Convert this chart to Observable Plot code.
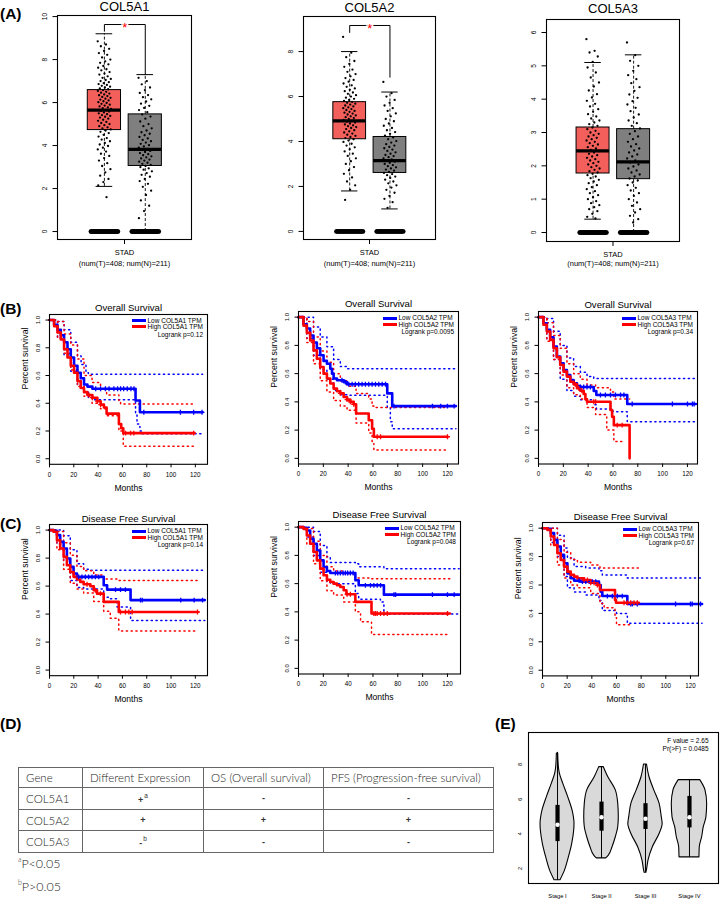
<!DOCTYPE html>
<html><head><meta charset="utf-8">
<script src="https://cdn.jsdelivr.net/npm/d3@7"></script>
<script src="https://cdn.jsdelivr.net/npm/@observablehq/plot@0.6"></script>
<style>
body{margin:0;background:#fff;}
#root{position:relative;width:720px;height:900px;overflow:hidden;font-family:"Liberation Sans",Arial,Helvetica,sans-serif;color:#000;}
.abs{position:absolute;white-space:nowrap;line-height:1;}
#tbl{position:absolute;left:18px;top:767px;border-collapse:collapse;font-family:Lato,"Open Sans",sans-serif;font-weight:300;font-size:11.5px;color:#262626;table-layout:fixed;}
#tbl td{border:1px solid #666;padding:0 0 0 7px;white-space:nowrap;overflow:visible;}
#tbl td.s{text-align:center;padding:0;font-family:"Liberation Sans",Arial,sans-serif;font-size:9px;font-weight:bold;color:#333;}
#tbl sup{font-size:6.5px;font-weight:normal;vertical-align:5px;margin-left:1px;}
.fn{font-family:Lato,"Open Sans",sans-serif;font-weight:300;font-size:12.5px;color:#262626;}
.fn sup{font-size:7px;vertical-align:6px;}
</style></head>
<body><div id="root"></div>
<script>
// ---------------- DATA ----------------
// (A) expression box plots
const genes = ["COL5A1", "COL5A2", "COL5A3"];
const tLo = [2.1, 1.8, 0.4];
const tQ1 = [4.72, 4.1, 1.77];
const tMed = [5.65, 4.92, 2.45];
const tQ3 = [6.58, 5.75, 3.15];
const tHi = [9.2, 8.0, 5.1];
const nLo = [0, 1.0, 0];
const nQ1 = [3.05, 2.6, 1.6];
const nMed = [3.82, 3.15, 2.12];
const nQ3 = [5.45, 4.2, 3.1];
const nHi = [7.3, 6.2, 5.33];
const sigTop = [9.63, 9.16, null];
const sigLeftEnd = [9.32, 8.85, null];
const sigRightEnd = [7.3, 6.86, null];
const zeroCountT = [44, 44, 44];
const zeroCountN = [44, 44, 44];
const axisTicksA = [[0,2,4,6,8,10],[0,2,4,6,8],[0,1,2,3,4,5,6]];
const ptsT1 = [8.85,8.7,8.62,8.5,8.4,8.3,8.22,8.1,8.0,7.92,7.85,7.78,7.7,7.62,7.55,7.5,7.42,7.35,7.3,7.22,7.15,7.1,7.05,7.0,6.95,6.9,6.86,6.82,6.78,6.74,6.7,6.66,6.62,6.58,6.54,6.5,6.46,6.42,6.38,6.34,6.3,6.26,6.22,6.18,6.14,6.1,6.06,6.02,5.98,5.94,5.9,5.86,5.82,5.78,5.74,5.7,5.66,5.62,5.58,5.54,5.5,5.46,5.42,5.38,5.34,5.3,5.25,5.2,5.15,5.1,5.05,5.0,4.95,4.9,4.85,4.8,4.75,4.7,4.64,4.58,4.5,4.42,4.35,4.28,4.2,4.12,4.05,3.98,3.9,3.82,3.72,3.62,3.52,3.42,3.3,3.18,3.05,2.9,2.75,2.6,2.45,2.3,2.15,1.6];
const ptsN1 = [7.15,7.0,6.85,6.7,6.58,6.45,6.35,6.25,6.15,6.05,5.95,5.85,5.75,5.65,5.55,5.45,5.35,5.25,5.12,5.0,4.9,4.8,4.7,4.62,4.55,4.48,4.4,4.33,4.26,4.2,4.14,4.08,4.02,3.96,3.9,3.85,3.8,3.75,3.7,3.65,3.6,3.55,3.5,3.45,3.4,3.35,3.3,3.25,3.2,3.15,3.1,3.05,3.0,2.94,2.88,2.8,2.72,2.64,2.55,2.45,2.35,2.22,2.08,1.9,1.7,1.45,1.2,0.95,0.62];
const ptsT2 = [8.65,7.95,7.75,7.58,7.45,7.32,7.2,7.1,7.0,6.9,6.82,6.74,6.66,6.58,6.5,6.43,6.36,6.3,6.24,6.18,6.12,6.06,6.0,5.95,5.9,5.85,5.8,5.76,5.72,5.68,5.64,5.6,5.56,5.52,5.48,5.44,5.4,5.36,5.32,5.28,5.24,5.2,5.16,5.12,5.08,5.04,5.0,4.96,4.92,4.88,4.84,4.8,4.76,4.72,4.68,4.64,4.6,4.55,4.5,4.45,4.4,4.35,4.3,4.25,4.2,4.15,4.1,4.04,3.98,3.9,3.82,3.74,3.65,3.56,3.46,3.36,3.25,3.12,3.0,2.86,2.72,2.56,2.4,2.22,2.05,1.85,1.4];
const ptsN2 = [6.65,6.15,6.0,5.85,5.72,5.6,5.48,5.36,5.25,5.12,5.0,4.9,4.8,4.7,4.6,4.5,4.42,4.34,4.26,4.18,4.1,4.02,3.95,3.88,3.82,3.76,3.7,3.64,3.58,3.52,3.46,3.4,3.35,3.3,3.25,3.2,3.15,3.1,3.05,3.0,2.95,2.9,2.85,2.8,2.75,2.7,2.65,2.6,2.55,2.5,2.44,2.38,2.3,2.22,2.14,2.05,1.95,1.85,1.72,1.58,1.45,1.3,1.05];
const ptsT3 = [5.8,5.45,5.4,5.28,5.12,4.95,4.8,4.65,4.5,4.38,4.26,4.15,4.05,3.95,3.86,3.78,3.7,3.62,3.55,3.48,3.42,3.36,3.3,3.25,3.2,3.15,3.1,3.05,3.0,2.96,2.92,2.88,2.84,2.8,2.76,2.72,2.68,2.64,2.6,2.56,2.52,2.48,2.44,2.4,2.36,2.32,2.28,2.24,2.2,2.16,2.12,2.08,2.04,2.0,1.96,1.92,1.88,1.84,1.8,1.76,1.72,1.68,1.63,1.58,1.53,1.48,1.42,1.36,1.3,1.24,1.18,1.12,1.06,1.0,0.94,0.88,0.82,0.76,0.7,0.64,0.56,0.47,0.42];
const ptsN3 = [5.7,5.32,5.15,5.0,4.85,4.72,4.6,4.48,4.36,4.25,4.14,4.04,3.94,3.84,3.74,3.64,3.54,3.45,3.36,3.28,3.2,3.12,3.04,2.96,2.88,2.8,2.72,2.65,2.58,2.52,2.46,2.4,2.34,2.28,2.22,2.16,2.1,2.04,1.98,1.92,1.86,1.8,1.74,1.68,1.62,1.56,1.5,1.42,1.34,1.26,1.18,1.1,1.0,0.9,0.8,0.7,0.6,0.5,0.4,0.3];

// (B) overall survival  [month, survival]
const os1Low = [[0,1],[3.8,0.966],[6.6,0.93],[9.3,0.89],[12,0.84],[14.8,0.79],[17.5,0.73],[20.2,0.67],[23,0.62],[25.7,0.58],[28.4,0.535],[31.2,0.52],[35.3,0.505],[70.8,0.42],[74.4,0.335],[126,0.335]];
const os1High = [[0,1],[3.8,0.955],[6.6,0.91],[9.3,0.86],[12,0.79],[14.8,0.73],[17.5,0.67],[20.2,0.62],[23,0.56],[25.7,0.51],[28.4,0.48],[31.2,0.46],[35.3,0.44],[39.4,0.415],[42.1,0.39],[44.8,0.37],[47,0.325],[57.1,0.25],[59,0.22],[60.7,0.185],[119.2,0.185]];
const os1LowUp = [[0,1],[6.6,0.99],[12,0.93],[17.5,0.84],[23,0.74],[26,0.68],[30,0.62],[32,0.61],[126,0.61]];
const os1LowLo = [[0,1],[6.6,0.87],[12,0.75],[17.5,0.63],[23,0.53],[28.4,0.48],[32,0.44],[36,0.425],[70.8,0.33],[72,0.25],[74.4,0.2],[76,0.18],[126,0.18]];
const os1HighUp = [[0,1],[6.6,0.99],[12,0.9],[17.5,0.82],[23,0.72],[28.4,0.6],[35,0.55],[42,0.5],[47,0.46],[57.1,0.42],[58.5,0.395],[119.2,0.395]];
const os1HighLo = [[0,1],[6.6,0.87],[12,0.76],[17.5,0.64],[23,0.52],[28.4,0.45],[35,0.4],[42,0.36],[47,0.31],[57.1,0.2],[60.7,0.09],[119.2,0.09]];
const os1LowCens = [38,42,46,49,53,56,58.5,61,64,67,69.5,77.6,107.7,118.6,125.5];
const os1HighCens = [32.5,35.3,39.4,42.1,62.6,66.7,69.4,118.6];

const os2Low = [[0,1],[4,0.95],[6.7,0.92],[9.4,0.87],[12.1,0.82],[14.8,0.78],[17.5,0.73],[20.2,0.69],[22.9,0.67],[25.6,0.635],[27,0.6],[28.3,0.565],[31,0.553],[36.4,0.54],[39.1,0.525],[71.5,0.46],[75.5,0.37],[126.8,0.37]];
const os2High = [[0,1],[4,0.94],[6.7,0.89],[9.4,0.835],[12.1,0.765],[14.8,0.705],[17.5,0.647],[20.2,0.6],[22.9,0.565],[25.6,0.53],[28.3,0.494],[31,0.475],[33.7,0.46],[36.4,0.435],[39.1,0.416],[41.8,0.4],[44.5,0.383],[46.4,0.318],[56.6,0.27],[59.3,0.21],[60.7,0.153],[120,0.153]];
const os2LowUp = [[0,1],[6.7,1.0],[12.1,0.93],[17.5,0.86],[22.9,0.79],[28.3,0.7],[33.7,0.65],[39.1,0.635],[126.8,0.635]];
const os2LowLo = [[0,1],[6.7,0.85],[12.1,0.73],[17.5,0.63],[22.9,0.56],[28.3,0.48],[33.7,0.45],[39.1,0.447],[71.5,0.36],[74,0.26],[75.5,0.21],[126.8,0.21]];
const os2HighUp = [[0,1],[6.7,0.97],[12.1,0.86],[17.5,0.76],[22.9,0.68],[28.3,0.6],[33.7,0.55],[39.1,0.51],[46.4,0.46],[56.6,0.42],[59.3,0.37],[60.7,0.36],[120,0.36]];
const os2HighLo = [[0,1],[6.7,0.82],[12.1,0.67],[17.5,0.55],[22.9,0.47],[28.3,0.41],[33.7,0.37],[39.1,0.34],[46.4,0.25],[56.6,0.18],[59.3,0.12],[60.7,0.06],[120,0.06]];
const os2LowCens = [35,37.8,40.5,43.2,45.8,48.5,51.2,53.9,56.6,59.3,62,64.7,67.4,70.1,76.9,107.9,114.6,120,125.4];
const os2HighCens = [33.7,39.1,41.8,44.5,63.4,66.1,120];

const os3Low = [[0,1],[4,0.957],[6.7,0.91],[9.4,0.858],[12.1,0.792],[14.8,0.721],[17.5,0.673],[20.2,0.626],[22.9,0.59],[25.6,0.555],[28.3,0.531],[31,0.512],[33.7,0.505],[44.5,0.477],[46.6,0.449],[71.5,0.385],[126.8,0.385]];
const os3High = [[0,1],[4,0.946],[6.7,0.898],[9.4,0.839],[12.1,0.78],[14.8,0.716],[17.5,0.661],[20.2,0.614],[22.9,0.579],[25.6,0.543],[28.3,0.524],[31,0.496],[33.7,0.479],[36.4,0.456],[37.8,0.418],[39.1,0.401],[58,0.342],[59.3,0.295],[60.7,0.235],[73.4,0]];
const os3LowUp = [[0,1],[6.7,0.99],[12.1,0.9],[17.5,0.8],[22.9,0.71],[28.3,0.65],[33.7,0.61],[39.1,0.58],[44.5,0.565],[126.8,0.565]];
const os3LowLo = [[0,1],[6.7,0.84],[12.1,0.7],[17.5,0.56],[22.9,0.48],[28.3,0.44],[33.7,0.415],[44.5,0.38],[46.6,0.35],[60,0.33],[71.5,0.26],[126.8,0.26]];
const os3HighUp = [[0,1],[6.7,0.96],[12.1,0.87],[17.5,0.78],[22.9,0.67],[28.3,0.6],[33.7,0.56],[39.1,0.52],[46,0.5],[58,0.47],[60.7,0.42],[73.4,0.42]];
const os3HighLo = [[0,1],[6.7,0.83],[12.1,0.7],[17.5,0.59],[22.9,0.5],[28.3,0.45],[33.7,0.42],[39.1,0.36],[46,0.31],[55,0.2],[60.7,0.12],[67.4,0.12]];
const os3LowCens = [33.7,36.4,39.1,41.8,49.9,53.9,58,62,66.1,68.8,75.5,107.9,120,124,125.4];
const os3HighCens = [29.7,32.4,35,44.5,46,63.4,67.4];

// (C) disease free survival
const dfs1Low = [[0,1],[3.3,0.995],[6.1,0.964],[8.8,0.916],[11.6,0.869],[14.3,0.797],[17.1,0.737],[19.8,0.69],[22.6,0.666],[44.6,0.606],[47.4,0.575],[66.7,0.5],[127.8,0.5]];
const dfs1High = [[0,1],[3.3,0.988],[6.1,0.928],[8.8,0.869],[11.6,0.809],[14.3,0.749],[17.1,0.701],[19.8,0.666],[22.6,0.647],[25.3,0.63],[28.1,0.613],[33.6,0.599],[36.4,0.57],[39.1,0.546],[44.6,0.487],[57,0.415],[121.8,0.415]];
const dfs1LowUp = [[0,1],[6.1,1.0],[11.6,0.96],[17.1,0.86],[22.6,0.76],[28.1,0.72],[33,0.713],[127.8,0.713]];
const dfs1LowLo = [[0,1],[6.1,0.9],[11.6,0.78],[17.1,0.64],[22.6,0.59],[28.1,0.58],[44.6,0.52],[50,0.51],[55.6,0.45],[66.7,0.355],[127.8,0.355]];
const dfs1HighUp = [[0,1],[6.1,0.99],[11.6,0.91],[17.1,0.82],[22.6,0.74],[28.1,0.71],[36.4,0.68],[44.6,0.65],[57,0.64],[121.8,0.64]];
const dfs1HighLo = [[0,1],[6.1,0.86],[11.6,0.72],[17.1,0.62],[22.6,0.58],[28.1,0.55],[36.4,0.49],[44.6,0.42],[50,0.37],[57,0.28],[121.8,0.28]];
const dfs1LowCens = [24,26.7,29.5,32.2,35,37.7,40.5,54.3,58.4,62.5,74.9,76.3,108,119,125.9];
const dfs1HighCens = [30.9,37.7,41.9,58.4,62.5,65.3,68,121.8];

const dfs2Low = [[0,1],[4,0.995],[6.7,0.976],[9.4,0.918],[12.1,0.882],[14.8,0.835],[17.5,0.765],[20.2,0.718],[22.9,0.689],[25.6,0.675],[45.8,0.624],[48.5,0.588],[68.8,0.522],[129.4,0.522]];
const dfs2High = [[0,1],[4,0.988],[6.7,0.941],[9.4,0.882],[12.1,0.824],[14.8,0.765],[17.5,0.706],[20.2,0.659],[22.9,0.628],[25.6,0.612],[28.3,0.6],[31,0.588],[33.7,0.576],[36.4,0.553],[38.6,0.525],[45.8,0.471],[58.8,0.388],[122,0.388]];
const dfs2LowUp = [[0,1],[6.7,1.0],[12.1,0.97],[17.5,0.87],[22.9,0.79],[25.6,0.75],[45.8,0.74],[48.5,0.72],[68.8,0.705],[129.4,0.705]];
const dfs2LowLo = [[0,1],[6.7,0.93],[12.1,0.8],[17.5,0.68],[22.9,0.61],[25.6,0.6],[45.8,0.53],[48.5,0.49],[66,0.47],[68.8,0.385],[129.4,0.385]];
const dfs2HighUp = [[0,1],[6.7,0.99],[12.1,0.9],[17.5,0.8],[22.9,0.72],[28.3,0.69],[36.4,0.67],[45.8,0.64],[58.8,0.635],[122,0.635]];
const dfs2HighLo = [[0,1],[6.7,0.88],[12.1,0.74],[17.5,0.62],[22.9,0.55],[28.3,0.52],[36.4,0.47],[45.8,0.4],[50,0.33],[58.8,0.24],[122,0.24]];
const dfs2LowCens = [29.7,31.6,33.7,35.9,37.8,39.6,41.8,44,53.9,58,60.7,63.4,66.1,76.9,78.2,107.9,120,125.4];
const dfs2HighCens = [39.1,41.8,60.7,62,63.4,66.1,68.8,71.5,120];

const dfs3Low = [[0,1],[4,0.995],[6.7,0.965],[9.4,0.918],[12.1,0.871],[14.8,0.812],[17.5,0.753],[20.2,0.682],[22.9,0.647],[25.6,0.631],[31,0.624],[45.8,0.6],[47.2,0.553],[48.5,0.522],[68.8,0.466],[129.4,0.466]];
const dfs3High = [[0,1],[4,0.988],[6.7,0.941],[9.4,0.882],[12.1,0.824],[14.8,0.776],[17.5,0.729],[20.2,0.694],[22.9,0.671],[25.6,0.659],[28.3,0.647],[33.7,0.635],[39.1,0.616],[44.5,0.6],[46.6,0.565],[58.8,0.494],[59.6,0.475],[78.2,0.475]];
const dfs3LowUp = [[0,1],[6.7,1.0],[12.1,0.95],[17.5,0.86],[20.2,0.79],[25.6,0.73],[35,0.72],[45.8,0.7],[48.5,0.67],[68.8,0.65],[129.4,0.65]];
const dfs3LowLo = [[0,1],[6.7,0.9],[12.1,0.8],[17.5,0.66],[20.2,0.58],[25.6,0.55],[35,0.53],[45.8,0.49],[48.5,0.42],[60,0.4],[68.8,0.33],[129.4,0.33]];
const dfs3HighUp = [[0,1],[6.7,1.0],[12.1,0.92],[17.5,0.83],[22.9,0.78],[28.3,0.76],[39.1,0.74],[46.6,0.72],[78.2,0.72]];
const dfs3HighLo = [[0,1],[6.7,0.88],[12.1,0.74],[17.5,0.65],[22.9,0.6],[28.3,0.58],[39.1,0.54],[46.6,0.47],[50,0.44],[58.8,0.37],[60,0.32],[72,0.32]];
const dfs3LowCens = [29.7,32.4,35.1,37.8,40.5,43.1,52.6,56.6,60.7,64.7,71.5,72.8,76.9,107.9,120,121.4,128.1];
const dfs3HighCens = [33.7,36.4,39.1,41.8,44.5,66.1,68.8,71.5,74.2,76.9];

const pvalOS = ["0.12", "0.0095", "0.34"];
const pvalDFS = ["0.14", "0.048", "0.67"];
const kmXTicks = [0, 20, 40, 60, 80, 100, 120];
const kmYTicks = [0, 0.2, 0.4, 0.6, 0.8, 1.0];

// (D) table
const tableHeader = ["Gene", "Different Expression", "OS (Overall survival)", "PFS (Progression-free survival)"];
const diffExpr = ["+", "+", "-"];
const diffSup = ["a", "", "b"];
const osMark = ["-", "+", "-"];
const pfsMark = ["-", "+", "-"];
const footnotes = [["a", "P<0.05"], ["b", "P>0.05"]];

// (E) violin plot by stage
const stages = ["Stage I", "Stage II", "Stage III", "Stage IV"];
const vioStage1 = [[1.32,0.068],[1.86,0.167],[2.64,0.258],[3.41,0.333],[4.19,0.379],[4.57,0.386],[5.35,0.341],[6.12,0.242],[6.9,0.129],[7.48,0.053],[7.86,0.03],[8.64,0.015]];
const vioStage2 = [[2.58,0.107],[2.74,0.166],[3.22,0.25],[3.8,0.325],[4.38,0.38],[4.96,0.393],[5.74,0.38],[6.51,0.325],[7.28,0.152],[7.85,0.052]];
const vioStage3 = [[1.75,0.02],[1.86,0.03],[2.45,0.068],[3.22,0.166],[3.99,0.32],[4.57,0.39],[4.96,0.37],[5.74,0.32],[6.51,0.2],[7.28,0.09],[8.0,0.034]];
const vioStage4 = [[2.64,0.227],[3.22,0.234],[3.8,0.288],[4.38,0.325],[4.96,0.386],[5.74,0.402],[6.51,0.364],[7.1,0.245]];
const vioMin = [1.3, 2.58, 1.75, 2.64];
const vioQ1 = [3.55, 4.15, 4.25, 4.34];
const vioMed = [4.52, 4.96, 4.87, 4.96];
const vioQ3 = [5.64, 5.83, 5.74, 6.16];
const vioMax = [8.7, 7.85, 8.0, 7.1];
const fValue = "2.65";
const prF = "0.0485";

// ---------------- LAYOUT HELPERS ----------------
const ROOT = document.getElementById("root");
const FONT = '"Liberation Sans", Arial, Helvetica, sans-serif';
function dims(f, m) {
  return {width: f[2]-f[0]+m.l+m.r, height: f[3]-f[1]+m.t+m.b,
    marginLeft: m.l, marginRight: m.r, marginTop: m.t, marginBottom: m.b};
}
function put(svg, f, m) {
  svg.style.position = "absolute";
  svg.style.left = (f[0]-m.l) + "px";
  svg.style.top = (f[1]-m.t) + "px";
  ROOT.appendChild(svg);
}
function label(html, x, y, o = {}) {
  const d = document.createElement("div");
  d.className = "abs " + (o.cls || "");
  d.innerHTML = html;
  d.style.left = x + "px"; d.style.top = y + "px";
  if (o.size) d.style.fontSize = o.size + "px";
  if (o.weight) d.style.fontWeight = o.weight;
  const ax = o.anchor === "end" ? "-100%" : o.anchor === "middle" ? "-50%" : "0";
  d.style.transform = `translate(${ax},-50%)`;
  ROOT.appendChild(d);
  return d;
}
function swatch(x1, x2, y, color) {
  const d = document.createElement("div");
  d.className = "abs";
  d.style.left = x1 + "px"; d.style.top = (y - 1.5) + "px";
  d.style.width = (x2 - x1) + "px"; d.style.height = "3px";
  d.style.background = color;
  ROOT.appendChild(d);
}
const baseStyle = {fontFamily: FONT, fontWeight: "normal", background: "transparent", overflow: "visible", color: "black"};

// ---------------- (A) BOX PLOTS ----------------
const POS_T = 0.35, POS_N = 0.655, HW = 0.124, JW = 0.05;
const jit = i => (((i * 0.6180339887) % 1) - 0.5) * 2 * JW;
const ptsT = [ptsT1, ptsT2, ptsT3];
const ptsN = [ptsN1, ptsN2, ptsN3];
const framesA = [[57,15,191,239],[303,16,435,239],[546,19,679,241]];
const yDomA = [[-0.37,10.05],[-0.36,9.56],[-0.27,6.39]];
const titleYA = [6.5, 7.2, 8];
const stadYA = [252, 252, 254];
const numYA = [263, 263, 263.5];
const RED_BOX = "#F35F5B", GRAY_BOX = "#7F7F7F";

genes.forEach((g, k) => {
  const f = framesA[k];
  const m = {t: 19, r: 6, b: 30, l: 22};
  const boxMarks = (pos, lo, q1, med, q3, hi, fill, pts, zc) => [
    Plot.ruleX([0], {x: () => pos, y1: () => q3, y2: () => hi, stroke: "black", strokeWidth: 0.9, strokeDasharray: "3,2"}),
    Plot.ruleX([0], {x: () => pos, y1: () => lo, y2: () => q1, stroke: "black", strokeWidth: 0.9, strokeDasharray: "3,2"}),
    Plot.ruleY([hi, lo], {y: d => d, x1: () => pos - HW/2, x2: () => pos + HW/2, stroke: "black", strokeWidth: 1}),
    Plot.rect([0], {x1: () => pos - HW, x2: () => pos + HW, y1: () => q1, y2: () => q3, fill, stroke: "black", strokeWidth: 1}),
    Plot.dot(pts.map((v, i) => ({v, i})), {x: d => pos + jit(d.i), y: "v", r: 1.15, fill: "black", stroke: null}),
    Plot.ruleY([med], {y: d => d, x1: () => pos - HW, x2: () => pos + HW, stroke: "black", strokeWidth: 3.2}),
    Plot.dot(d3.range(zc), {x: i => pos - HW + 0.02 + (i + 0.5) / zc * (2*HW - 0.04), y: () => 0, r: 2.2, fill: "black", stroke: null})
  ];
  const marks = [
    ...boxMarks(POS_T, tLo[k], tQ1[k], tMed[k], tQ3[k], tHi[k], RED_BOX, ptsT[k], zeroCountT[k]),
    ...boxMarks(POS_N, nLo[k], nQ1[k], nMed[k], nQ3[k], nHi[k], GRAY_BOX, ptsN[k], zeroCountN[k]),
    Plot.frame({stroke: "black", strokeWidth: 1.1}),
    Plot.axisY({ticks: axisTicksA[k], tickFormat: d3.format("d"), tickSize: 4.5, tickPadding: 8, tickRotate: -90, textAnchor: "middle", lineAnchor: "middle", fontSize: 6.5, label: null}),
    Plot.axisX({ticks: [0.5], tickFormat: () => "", tickSize: 5, label: null}),
    Plot.text([g], {frameAnchor: "top", lineAnchor: "middle", dy: titleYA[k] - f[1], fontSize: 13, fontWeight: "normal"}),
    Plot.text(["STAD"], {frameAnchor: "bottom", lineAnchor: "middle", dy: stadYA[k] - f[3], fontSize: 7.5}),
    Plot.text(["(num(T)=408; num(N)=211)"], {frameAnchor: "bottom", lineAnchor: "middle", dy: numYA[k] - f[3], fontSize: 7.5})
  ];
  if (sigTop[k] != null) {
    marks.push(Plot.line([[POS_T, sigLeftEnd[k]], [POS_T, sigTop[k]], [POS_N, sigTop[k]], [POS_N, sigRightEnd[k]]], {x: d => d[0], y: d => d[1], stroke: "black", strokeWidth: 1}));
    marks.push(Plot.text(["*"], {x: () => (POS_T + POS_N) / 2, y: () => sigTop[k], dy: 3, fill: "red", fontSize: 13, stroke: "white", strokeWidth: 2.5}));
  }
  const svg = Plot.plot({...dims(f, m), x: {domain: [0, 1]}, y: {domain: yDomA[k]}, style: baseStyle, marks});
  put(svg, f, m);
});

// ---------------- (B)/(C) KAPLAN-MEIER ----------------
function stepAt(arr, t) { let v = arr[0][1]; for (const [tt, s] of arr) if (tt <= t) v = s; return v; }
function kmPanel(c) {
  const f = c.frame;
  const m = {t: 14, r: 4, b: 30, l: 32};
  const ci = (data, color) => Plot.line(data, {x: d => d[0], y: d => d[1], curve: "step-after", stroke: color, strokeWidth: 1.5, strokeDasharray: "1.2,3.6"});
  const ln = (data, color) => Plot.line(data, {x: d => d[0], y: d => d[1], curve: "step-after", stroke: color, strokeWidth: 2.6});
  const cens = (times, series, color) => Plot.dot(times.map(t => [t, stepAt(series, t)]), {x: d => d[0], y: d => d[1], symbol: "plus", r: 1.7, stroke: color, strokeWidth: 1.3});
  const svg = Plot.plot({
    ...dims(f, m),
    x: {domain: [0, c.xMax]}, y: {domain: [-0.04, 1.04]},
    style: baseStyle,
    marks: [
      ci(c.lowUp, "blue"), ci(c.lowLo, "blue"), ci(c.highUp, "red"), ci(c.highLo, "red"),
      ln(c.low, "blue"), ln(c.high, "red"),
      cens(c.lowCens, c.low, "blue"), cens(c.highCens, c.high, "red"),
      Plot.frame({stroke: "black", strokeWidth: 1.1}),
      Plot.axisX({ticks: kmXTicks, tickSize: 3.5, tickPadding: 4.5, fontSize: 6.3, label: null}),
      Plot.axisY({ticks: kmYTicks, tickFormat: d3.format(".1f"), tickSize: 3.5, tickPadding: 7.8, tickRotate: -90, textAnchor: "middle", lineAnchor: "middle", fontSize: 6, label: null}),
      Plot.text([c.title], {frameAnchor: "top", lineAnchor: "middle", dy: c.titleY - f[1], fontSize: 9.6, fontWeight: "normal"}),
      Plot.text(["Months"], {frameAnchor: "bottom", lineAnchor: "middle", dy: 23.5, fontSize: 8.6}),
      Plot.text(["Percent survival"], {frameAnchor: "left", lineAnchor: "middle", dx: -24, rotate: -90, fontSize: 8.7})
    ]
  });
  put(svg, f, m);
  const [L, T, R] = f;
  swatch(R - 75, R - 61, T + 7, "#0000FF");
  swatch(R - 75, R - 61, T + 13.4, "#FF0000");
  label(`Low ${c.gene} TPM`, R - 59.5, T + 7, {size: 6.5});
  label(`High ${c.gene} TPM`, R - 59.5, T + 13.4, {size: 6.5});
  label(`Logrank p=${c.pval}`, R - 4, T + 21, {size: 6.5, anchor: "end"});
}
const osLow = [os1Low, os2Low, os3Low], osHigh = [os1High, os2High, os3High];
const osLowUp = [os1LowUp, os2LowUp, os3LowUp], osLowLo = [os1LowLo, os2LowLo, os3LowLo];
const osHighUp = [os1HighUp, os2HighUp, os3HighUp], osHighLo = [os1HighLo, os2HighLo, os3HighLo];
const osLowCens = [os1LowCens, os2LowCens, os3LowCens], osHighCens = [os1HighCens, os2HighCens, os3HighCens];
const dfsLow = [dfs1Low, dfs2Low, dfs3Low], dfsHigh = [dfs1High, dfs2High, dfs3High];
const dfsLowUp = [dfs1LowUp, dfs2LowUp, dfs3LowUp], dfsLowLo = [dfs1LowLo, dfs2LowLo, dfs3LowLo];
const dfsHighUp = [dfs1HighUp, dfs2HighUp, dfs3HighUp], dfsHighLo = [dfs1HighLo, dfs2HighLo, dfs3HighLo];
const dfsLowCens = [dfs1LowCens, dfs2LowCens, dfs3LowCens], dfsHighCens = [dfs1HighCens, dfs2HighCens, dfs3HighCens];
const framesB = [[49,313.5,207,463.3],[298,311.4,458,463.9],[538,311.4,697,463.9]];
const xMaxB = [130, 128.9, 128.1];
const titleYB = [307, 304, 305];
const framesC = [[49,524.4,207,675.6],[298,521.4,460,673.9],[542,522.3,698,675.7]];
const xMaxC = [130, 130.5, 126.5];
const titleYC = [518.5, 514.5, 516.5];
genes.forEach((g, k) => {
  kmPanel({frame: framesB[k], xMax: xMaxB[k], title: "Overall Survival", titleY: titleYB[k], gene: g, pval: pvalOS[k],
    low: osLow[k], high: osHigh[k], lowUp: osLowUp[k], lowLo: osLowLo[k], highUp: osHighUp[k], highLo: osHighLo[k],
    lowCens: osLowCens[k], highCens: osHighCens[k]});
  kmPanel({frame: framesC[k], xMax: xMaxC[k], title: "Disease Free Survival", titleY: titleYC[k], gene: g, pval: pvalDFS[k],
    low: dfsLow[k], high: dfsHigh[k], lowUp: dfsLowUp[k], lowLo: dfsLowLo[k], highUp: dfsHighUp[k], highLo: dfsHighLo[k],
    lowCens: dfsLowCens[k], highCens: dfsHighCens[k]});
});

// ---------------- (E) VIOLIN ----------------
(function () {
  const f = [528, 732, 718, 883];
  const m = {t: 4, r: 2, b: 20, l: 16};
  const profiles = [vioStage1, vioStage2, vioStage3, vioStage4];
  const rows = [];
  profiles.forEach((p, k) => p.forEach(([v, w]) => rows.push({s: k + 1, v, w})));
  const idx = d3.range(stages.length);
  const svg = Plot.plot({
    ...dims(f, m),
    x: {domain: [0.34, 4.66]}, y: {domain: [1.13, 9.85]},
    style: baseStyle,
    marks: [
      Plot.areaX(rows, {y: "v", x1: d => d.s - d.w, x2: d => d.s + d.w, z: "s", fill: "#D9D9D9", stroke: "black", strokeWidth: 1.1, curve: "monotone-y"}),
      Plot.ruleX(idx, {x: i => i + 1, y1: i => vioMin[i], y2: i => vioMax[i], stroke: "black", strokeWidth: 1}),
      Plot.ruleX(idx, {x: i => i + 1, y1: i => vioQ1[i], y2: i => vioQ3[i], stroke: "black", strokeWidth: 4.2}),
      Plot.dot(idx, {x: i => i + 1, y: i => vioMed[i], r: 2.2, fill: "white", stroke: null}),
      Plot.frame({stroke: "black", strokeWidth: 1.1}),
      Plot.axisY({ticks: [2, 4, 6, 8], tickSize: 0, tickPadding: 8, tickRotate: -90, textAnchor: "middle", lineAnchor: "middle", fontSize: 5.5, label: null}),
      Plot.axisX({ticks: [1, 2, 3, 4], tickFormat: d => stages[d - 1], tickSize: 0, tickPadding: 10, fontSize: 5.8, label: null}),
      Plot.text([`F value = ${fValue}`], {frameAnchor: "top-right", lineAnchor: "middle", dx: -10, dy: 8, textAnchor: "end", fontSize: 6.5}),
      Plot.text([`Pr(>F) = ${prF}`], {frameAnchor: "top-right", lineAnchor: "middle", dx: -10, dy: 16, textAnchor: "end", fontSize: 6.5})
    ]
  });
  put(svg, f, m);
})();

// ---------------- (D) TABLE ----------------
(function () {
  const t = document.createElement("table");
  t.id = "tbl";
  const widths = [64, 121, 120, 170];
  const heights = [20, 21.7, 21.7, 21.7];
  const cg = document.createElement("colgroup");
  widths.forEach(w => { const c = document.createElement("col"); c.style.width = w + "px"; cg.appendChild(c); });
  t.appendChild(cg);
  const hr = document.createElement("tr"); hr.style.height = heights[0] + "px";
  tableHeader.forEach(h => { const td = document.createElement("td"); td.textContent = h; hr.appendChild(td); });
  t.appendChild(hr);
  genes.forEach((g, k) => {
    const tr = document.createElement("tr"); tr.style.height = heights[k + 1] + "px";
    const c0 = document.createElement("td"); c0.textContent = g; tr.appendChild(c0);
    const c1 = document.createElement("td"); c1.className = "s"; c1.innerHTML = diffExpr[k] + (diffSup[k] ? `<sup>${diffSup[k]}</sup>` : ""); tr.appendChild(c1);
    const c2 = document.createElement("td"); c2.className = "s"; c2.textContent = osMark[k]; tr.appendChild(c2);
    const c3 = document.createElement("td"); c3.className = "s"; c3.textContent = pfsMark[k]; tr.appendChild(c3);
    t.appendChild(tr);
  });
  t.style.width = d3.sum(widths) + "px";
  ROOT.appendChild(t);
  footnotes.forEach(([s, txt], i) => label(`<sup>${s}</sup>${txt}`, 18, 863 + i * 23, {cls: "fn"}));
})();

// ---------------- PANEL LETTERS ----------------
const panelLetters = [["(A)", 0, 14], ["(B)", 0, 309], ["(C)", 0, 524], ["(D)", 0, 723.5], ["(E)", 495, 723.5]];
panelLetters.forEach(([s, x, y]) => label(s, x, y, {size: 15.5, weight: "bold"}));
</script>
</body></html>
